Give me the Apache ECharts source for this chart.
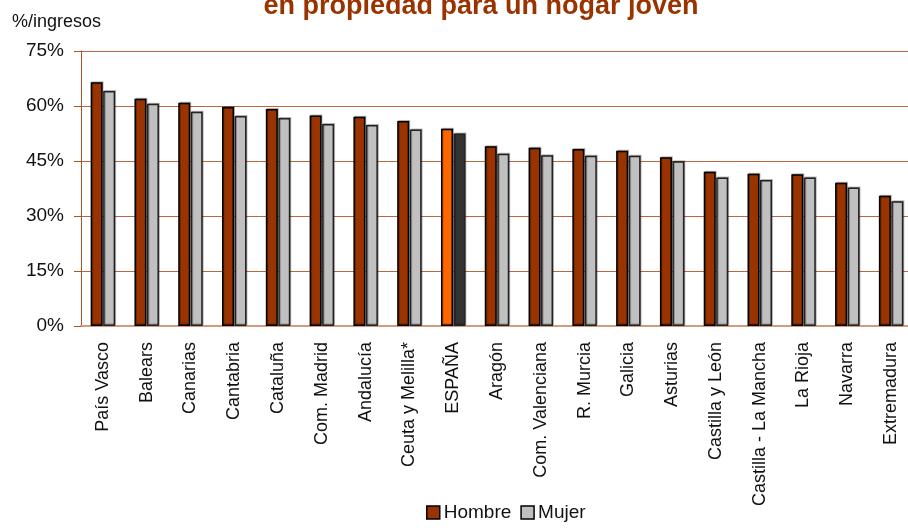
<!DOCTYPE html>
<html>
<head>
<meta charset="utf-8">
<script src="https://cdn.jsdelivr.net/npm/echarts@6/dist/echarts.min.js"></script>
<style>html,body{margin:0;padding:0;background:#fff}#c{width:908px;height:530px}</style>
</head>
<body>
<div id="c"></div>
<script>
const categories = ["País Vasco","Balears","Canarias","Cantabria","Cataluña","Com. Madrid","Andalucía","Ceuta y Melilla*","ESPAÑA","Aragón","Com. Valenciana","R. Murcia","Galicia","Asturias","Castilla y León","Castilla - La Mancha","La Rioja","Navarra","Extremadura"];
const hombre = [66.5,62.0,60.9,59.7,59.2,57.4,57.1,55.9,53.8,49.0,48.6,48.3,47.8,46.0,42.1,41.5,41.4,39.1,35.5];
const mujer  = [64.1,60.6,58.4,57.3,56.7,55.1,54.8,53.6,52.5,47.0,46.6,46.4,46.4,44.9,40.5,39.8,40.5,37.8,34.0];
const yTicks = {min:0, max:75, interval:15};
const highlight = "ESPAÑA";

const FONT = "'Liberation Sans Narrow','Arial Narrow','Liberation Sans',Arial,sans-serif";
const maleColor = '#993300', femaleColor = '#C0C0C0';
const hiMale = '#FF6600', hiFemale = '#333333';

function mk(vals, hi){
  return vals.map((v,i)=>categories[i]===highlight ? {value:v, itemStyle:{color:hi}} : v);
}
const chart = echarts.init(document.getElementById('c'));
chart.setOption({
  animation:false,
  backgroundColor:'#fff',
  title:{
    text:'en propiedad para un hogar joven',
    left:476, textAlign:'center', top:-12,
    textStyle:{fontFamily:"'Liberation Sans',Arial,sans-serif", fontWeight:'bold', fontSize:27, color:'#993300'}
  },
  legend:{
    bottom:3, left:421, icon:'rect',
    itemWidth:13, itemHeight:13, itemGap:9,
    textStyle:{fontFamily:FONT, fontSize:19, color:'#111', padding:[0,0,0,-1]},
    data:[{name:'Hombre', itemStyle:{color:maleColor, borderColor:'#000', borderWidth:1.5}},
          {name:'Mujer', itemStyle:{color:femaleColor, borderColor:'#000', borderWidth:1.5}}]
  },
  grid:{left:81, right:-5, top:51, bottom:204, outerBoundsMode:'none', containLabel:false},
  xAxis:{
    type:'category', data:categories,
    axisLine:{lineStyle:{color:'#D39A80', width:2}},
    axisTick:{show:false},
    axisLabel:{rotate:90, interval:0, margin:16, fontFamily:FONT, fontSize:18, color:'#111'}
  },
  yAxis:{
    type:'value', min:yTicks.min, max:yTicks.max, interval:yTicks.interval,
    name:'%/ingresos', nameLocation:'end', nameGap:0,
    nameTextStyle:{fontFamily:FONT, fontSize:18, color:'#111', align:'left', padding:[0,0,20,-69]},
    axisLine:{show:true, lineStyle:{color:'#B0502A', width:1}},
    axisTick:{show:true, length:7, lineStyle:{color:'#B0502A'}},
    splitLine:{lineStyle:{color:'#BF6540', width:1.2}},
    axisLabel:{formatter:'{value}%', fontFamily:FONT, fontSize:19, color:'#111', margin:17}
  },
  series:[
    {name:'Hombre', type:'bar', data:mk(hombre, hiMale), barWidth:12, barGap:'4%',
     itemStyle:{color:maleColor, borderColor:'#000', borderWidth:1.5, shadowColor:'rgba(0,0,0,0.25)', shadowOffsetX:1, shadowOffsetY:-1}},
    {name:'Mujer', type:'bar', data:mk(mujer, hiFemale), barWidth:12,
     itemStyle:{color:femaleColor, borderColor:'#222', borderWidth:1.5, shadowColor:'rgba(0,0,0,0.25)', shadowOffsetX:1, shadowOffsetY:-1}}
  ]
});
</script>
</body>
</html>
